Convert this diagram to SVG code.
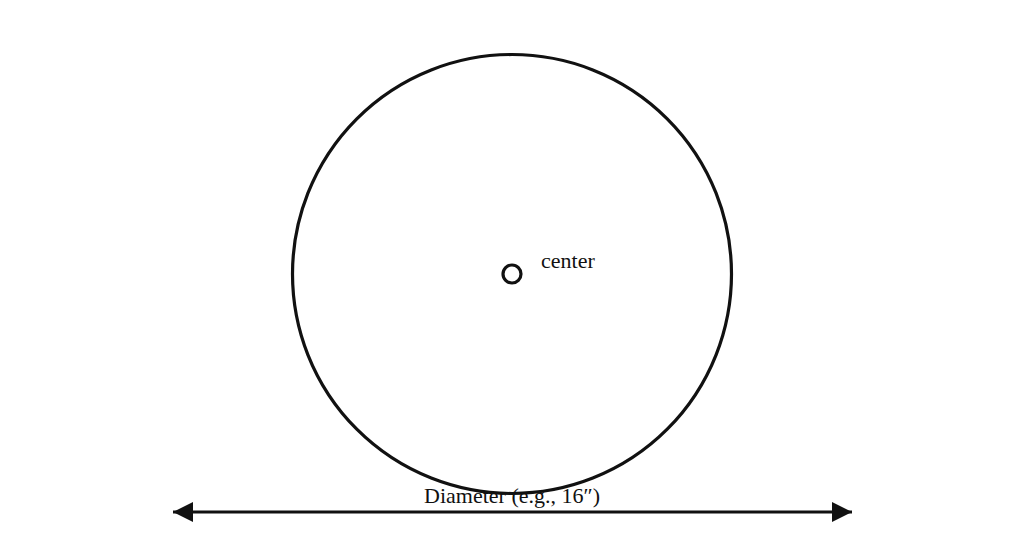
<svg xmlns="http://www.w3.org/2000/svg" width="1024" height="549" viewBox="0 0 1024 549">
<style>
.s{fill:none;stroke:#111;stroke-width:3.2}
.t{font-family:"Liberation Serif",serif;font-size:22px;fill:#111}
</style>
<defs>
<marker id="ah" markerWidth="20" markerHeight="20" refX="20" refY="10" orient="auto-start-reverse" markerUnits="userSpaceOnUse">
<path d="M0,0 L20,10 L0,20 Z" fill="#111"/>
</marker>
</defs>
<rect width="1024" height="549" fill="#fff"/>
<g id="circle">
<circle class="s" cx="512" cy="274" r="219.5"/>
</g>
<g id="center">
<circle class="s" cx="512" cy="274" r="9"/>
<text class="t" x="541" y="268">center</text>
</g>
<g id="connectors">
<line class="s" x1="173" y1="512" x2="852" y2="512" marker-start="url(#ah)" marker-end="url(#ah)"/>
</g>
<g id="label">
<text class="t" x="512" y="503" text-anchor="middle">Diameter (e.g., 16″)</text>
</g>
</svg>
